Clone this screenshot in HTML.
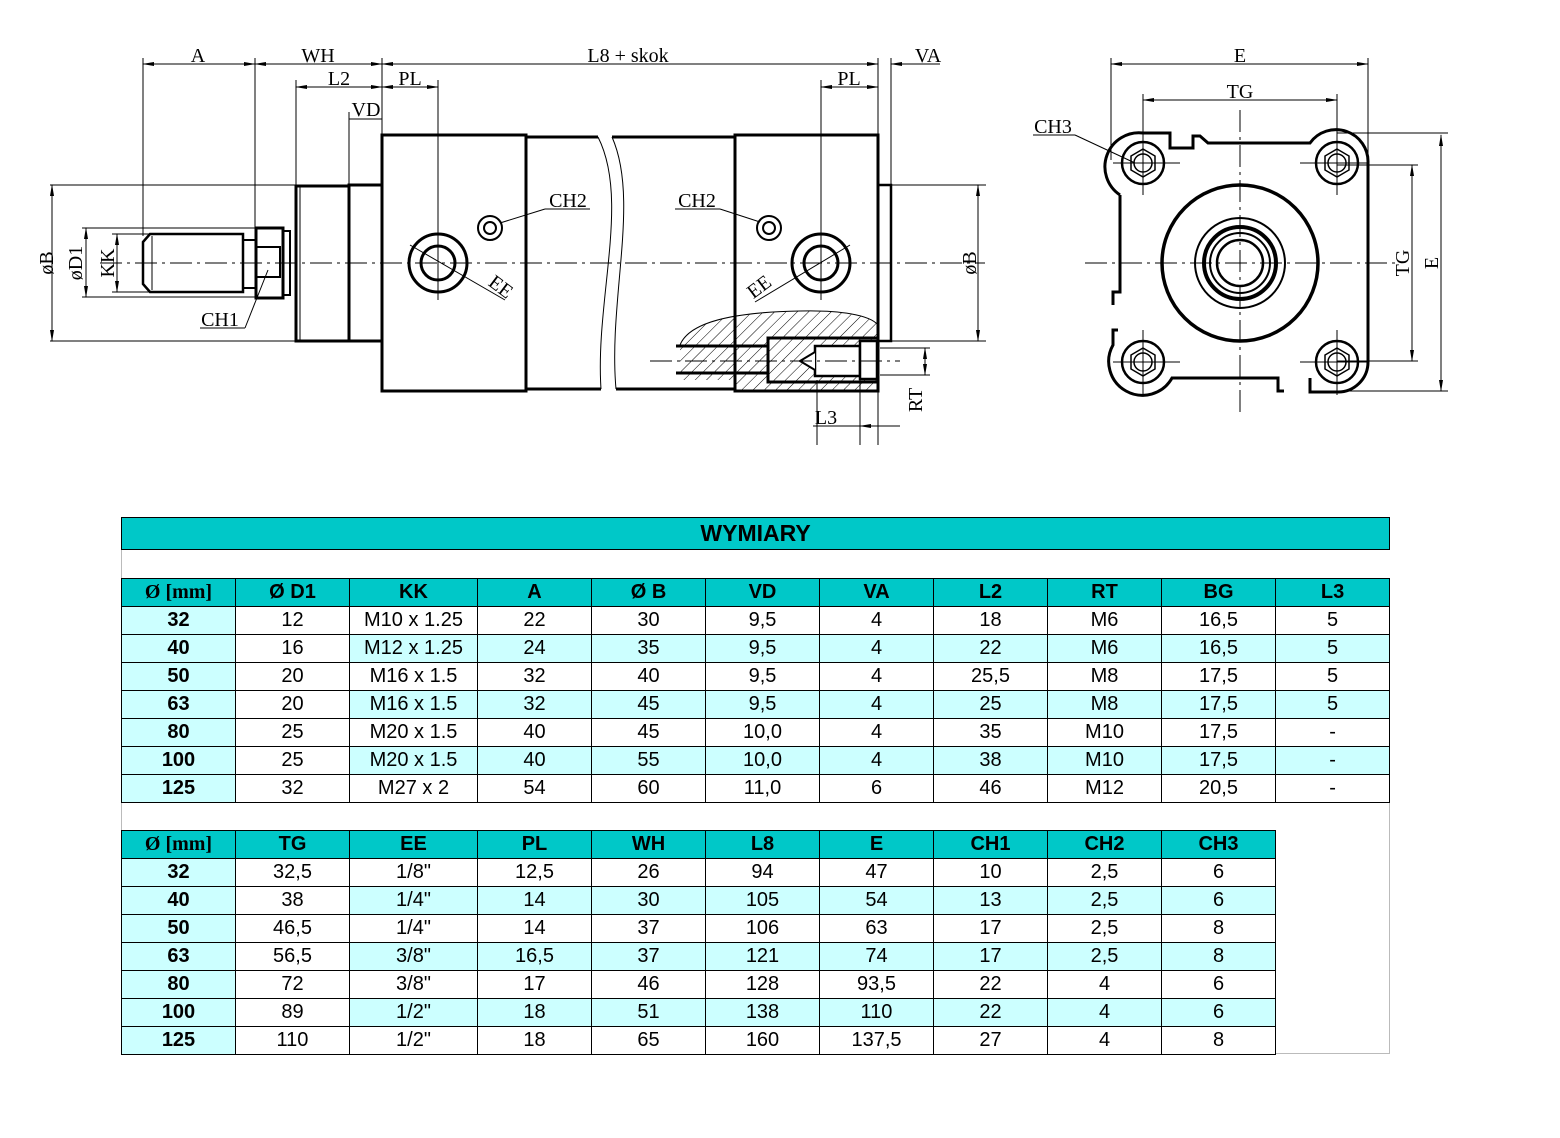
<!DOCTYPE html>
<html><head><meta charset="utf-8"><style>
html,body{margin:0;padding:0;background:#fff;}
body{width:1560px;height:1138px;position:relative;overflow:hidden;}
svg{position:absolute;left:0;top:0;}
.t{position:absolute;border-collapse:collapse;table-layout:fixed;font-family:"Liberation Sans",Arial,sans-serif;font-size:20px;color:#000;}
.t td{border:1px solid #000;height:27px;padding:0;text-align:center;line-height:27px;overflow:hidden;white-space:nowrap;}
.h td{background:#00c8c8;font-weight:bold;}
.c{background:#ccffff;}
.f{background:#ccffff;font-weight:bold;}
.hf{font-family:"Liberation Serif",serif;font-weight:bold;}
</style></head><body>
<svg width="1560" height="500" viewBox="0 0 1560 500" font-family="Liberation Serif, serif" font-size="20">
<defs>
<marker id="ar" markerWidth="12" markerHeight="6" refX="11" refY="3" orient="auto-start-reverse" markerUnits="userSpaceOnUse"><path d="M0,1 L12,3 L0,5z" fill="#000"/></marker>
<pattern id="hat" width="8" height="8" patternUnits="userSpaceOnUse" patternTransform="rotate(45)"><line x1="0" y1="0" x2="0" y2="8" stroke="#000" stroke-width="1"/></pattern>
</defs>
<g stroke="#000" fill="none">
<g stroke-width="1">
<line x1="143" y1="58" x2="143" y2="236"/>
<line x1="255" y1="58" x2="255" y2="230"/>
<line x1="382" y1="58" x2="382" y2="135"/>
<line x1="296" y1="80" x2="296" y2="186"/>
<line x1="349" y1="112" x2="349" y2="186"/>
<line x1="438" y1="80" x2="438" y2="300"/>
<line x1="821" y1="80" x2="821" y2="300"/>
<line x1="878" y1="58" x2="878" y2="135"/>
<line x1="891" y1="58" x2="891" y2="185"/>
<line x1="50" y1="185" x2="296" y2="185"/>
<line x1="50" y1="341" x2="296" y2="341"/>
<line x1="82" y1="228" x2="256" y2="228"/>
<line x1="82" y1="297" x2="256" y2="297"/>
<line x1="112" y1="234" x2="150" y2="234"/>
<line x1="112" y1="292" x2="150" y2="292"/>
<line x1="891" y1="185" x2="986" y2="185"/>
<line x1="891" y1="341" x2="986" y2="341"/>
</g>
<g stroke-width="1" marker-start="url(#ar)" marker-end="url(#ar)">
<line x1="143" y1="64" x2="255" y2="64"/>
<line x1="255" y1="64" x2="382" y2="64"/>
<line x1="382" y1="64" x2="878" y2="64"/>
<line x1="296" y1="87" x2="382" y2="87"/>
<line x1="382" y1="87" x2="438" y2="87"/>
<line x1="821" y1="87" x2="878" y2="87"/>
<line x1="52" y1="185" x2="52" y2="341"/>
<line x1="86" y1="228" x2="86" y2="297"/>
<line x1="117" y1="234" x2="117" y2="292"/>
<line x1="978" y1="185" x2="978" y2="341"/>
<line x1="1111" y1="64" x2="1368" y2="64"/>
<line x1="1143" y1="100" x2="1337" y2="100"/>
<line x1="1412" y1="165" x2="1412" y2="361"/>
<line x1="1441" y1="135" x2="1441" y2="391"/>
</g>
<line x1="349" y1="119" x2="382" y2="119" stroke-width="1"/>
<line x1="891" y1="64" x2="940" y2="64" stroke-width="1" marker-start="url(#ar)"/>
<line x1="100" y1="263" x2="985" y2="263" stroke-width="1" stroke-dasharray="22,5,3,5"/>
<path d="M150,234 H243 V292 H150 L143,284 V242 Z" stroke-width="2.5"/>
<line x1="152" y1="236" x2="152" y2="290" stroke-width="1"/>
<rect x="243" y="240" width="13" height="48" stroke-width="2"/>
<rect x="256" y="228" width="27" height="70" stroke-width="3"/>
<rect x="256" y="247" width="24" height="30" stroke-width="2"/>
<rect x="283" y="231" width="7" height="64" stroke-width="2"/>
<rect x="296" y="186" width="53" height="155" stroke-width="3"/>
<line x1="300" y1="186" x2="300" y2="341" stroke-width="1"/>
<rect x="349" y="185" width="33" height="156" stroke-width="3"/>
<rect x="382" y="135" width="144" height="256" stroke-width="3"/>
<path d="M526,137 H598 M526,389 H601 M612,137 H735 M616,389 H735" stroke-width="3"/>
<path d="M598,137 C630,200 595,300 601,389 M612,137 C640,200 608,300 616,389" stroke-width="1"/>
<rect x="735" y="135" width="143" height="256" stroke-width="3"/>
<rect x="878" y="185" width="13" height="156" stroke-width="2.5"/>
<circle cx="438" cy="263" r="29" stroke-width="3"/>
<circle cx="438" cy="263" r="17" stroke-width="3"/>
<circle cx="821" cy="263" r="29" stroke-width="3"/>
<circle cx="821" cy="263" r="17" stroke-width="3"/>
<line x1="410" y1="245" x2="505" y2="300" stroke-width="1"/>
<line x1="850" y1="245" x2="755" y2="302" stroke-width="1"/>
<circle cx="490" cy="228" r="12" stroke-width="2"/><circle cx="490" cy="228" r="6" stroke-width="2"/>
<circle cx="769" cy="228" r="12" stroke-width="2"/><circle cx="769" cy="228" r="6" stroke-width="2"/>
<line x1="500" y1="223" x2="545" y2="209" stroke-width="1"/><line x1="545" y1="209" x2="590" y2="209" stroke-width="1"/>
<line x1="760" y1="222" x2="720" y2="209" stroke-width="1"/><line x1="675" y1="209" x2="720" y2="209" stroke-width="1"/>
<line x1="268" y1="270" x2="245" y2="328" stroke-width="1"/><line x1="200" y1="328" x2="245" y2="328" stroke-width="1"/>
<path d="M680,345 C690,320 740,312 800,311 C840,310 870,315 878,325 V391 H735 V380 H680 Z" fill="url(#hat)" stroke="none"/>
<path d="M680,345 C690,320 740,312 800,311 C840,310 870,315 878,325" stroke-width="1"/>
<rect x="768" y="338" width="110" height="44" fill="#fff" stroke-width="3"/>
<rect x="768" y="338" width="110" height="44" fill="url(#hat)" stroke="none"/>
<rect x="815" y="346" width="45" height="30" fill="#fff" stroke-width="2.5"/>
<rect x="860" y="341" width="17" height="38" fill="#fff" stroke-width="2.5"/>
<path d="M815,352 L800,361 L815,370" fill="#fff" stroke-width="2"/>
<path d="M676,346 H768 M676,373 H768" stroke-width="3"/>
<line x1="650" y1="361" x2="900" y2="361" stroke-width="1" stroke-dasharray="22,5,3,5"/>
<line x1="880" y1="348" x2="930" y2="348" stroke-width="1"/>
<line x1="880" y1="375" x2="930" y2="375" stroke-width="1"/>
<line x1="925" y1="348" x2="925" y2="375" stroke-width="1" marker-start="url(#ar)" marker-end="url(#ar)"/>
<line x1="817" y1="380" x2="817" y2="445" stroke-width="1"/>
<line x1="860" y1="380" x2="860" y2="445" stroke-width="1"/>
<line x1="878" y1="391" x2="878" y2="445" stroke-width="1"/>
<line x1="813" y1="426" x2="860" y2="426" stroke-width="1"/>
<line x1="860" y1="426" x2="900" y2="426" stroke-width="1" marker-start="url(#ar)"/>
<!-- right view -->
<g stroke-width="1" stroke-dasharray="22,5,3,5">
<line x1="1240" y1="110" x2="1240" y2="412"/>
<line x1="1085" y1="263" x2="1395" y2="263"/>
</g>
<g stroke-width="1">
<line x1="1111" y1="58" x2="1111" y2="160"/>
<line x1="1368" y1="58" x2="1368" y2="160"/>
<line x1="1143" y1="94" x2="1143" y2="190"/>
<line x1="1337" y1="94" x2="1337" y2="190"/>
<line x1="1337" y1="133" x2="1448" y2="133"/>
<line x1="1337" y1="391" x2="1448" y2="391"/>
<line x1="1337" y1="165" x2="1418" y2="165"/>
<line x1="1337" y1="361" x2="1418" y2="361"/>
<line x1="1033" y1="135" x2="1075" y2="135"/>
<line x1="1075" y1="135" x2="1135" y2="163"/>
</g>
<path d="M1120,195 A34,34 0 0 1 1143,133 H1170 V148 H1193 V136 H1200 L1208,143 H1310 A32,32 0 0 1 1368,163 V362 A30,30 0 0 1 1337,392 H1310 V378 M1284,391 H1278 V378 H1172 A32,32 0 0 1 1113,345 V330 H1118 M1113,305 V292 H1120 V195" stroke-width="3"/>
<circle cx="1240" cy="263" r="78" stroke-width="3.5"/>
<circle cx="1240" cy="263" r="45" stroke-width="2"/>
<circle cx="1240" cy="263" r="36" stroke-width="4"/>
<circle cx="1240" cy="263" r="30" stroke-width="2"/>
<circle cx="1240" cy="263" r="23" stroke-width="2.5"/>
<g stroke-width="2.5">
<circle cx="1143" cy="163" r="21"/><circle cx="1337" cy="163" r="21"/><circle cx="1143" cy="362" r="21"/><circle cx="1337" cy="362" r="21"/>
</g>
<g stroke-width="1.5">
<path d="M1143,149 L1155,156 V170 L1143,177 L1131,170 V156Z"/>
<path d="M1337,149 L1349,156 V170 L1337,177 L1325,170 V156Z"/>
<path d="M1143,348 L1155,355 V369 L1143,376 L1131,369 V355Z"/>
<path d="M1337,348 L1349,355 V369 L1337,376 L1325,369 V355Z"/>
<circle cx="1143" cy="163" r="9"/><circle cx="1337" cy="163" r="9"/><circle cx="1143" cy="362" r="9"/><circle cx="1337" cy="362" r="9"/>
</g>
<g stroke-width="1">
<path d="M1113,163 H1180 M1143,130 V195 M1300,163 H1368 M1337,130 V195 M1113,362 H1180 M1143,330 V395 M1300,362 H1368 M1337,330 V395"/>
</g>
</g>
<g fill="#000">
<text x="198" y="62" text-anchor="middle">A</text>
<text x="318" y="62" text-anchor="middle">WH</text>
<text x="628" y="62" text-anchor="middle">L8 + skok</text>
<text x="928" y="62" text-anchor="middle">VA</text>
<text x="339" y="85" text-anchor="middle">L2</text>
<text x="410" y="85" text-anchor="middle">PL</text>
<text x="849" y="85" text-anchor="middle">PL</text>
<text x="366" y="116" text-anchor="middle">VD</text>
<text x="568" y="207" text-anchor="middle">CH2</text>
<text x="697" y="207" text-anchor="middle">CH2</text>
<text x="220" y="326" text-anchor="middle">CH1</text>
<text x="1053" y="133" text-anchor="middle">CH3</text>
<text x="1240" y="62" text-anchor="middle">E</text>
<text x="1240" y="98" text-anchor="middle">TG</text>
<text x="826" y="424" text-anchor="middle">L3</text>
<text transform="translate(497,292) rotate(37)" text-anchor="middle">EE</text>
<text transform="translate(763,292) rotate(-37)" text-anchor="middle">EE</text>
<text transform="translate(53,263) rotate(-90)" text-anchor="middle">øB</text>
<text transform="translate(82,263) rotate(-90)" text-anchor="middle">øD1</text>
<text transform="translate(114,263) rotate(-90)" text-anchor="middle">KK</text>
<text transform="translate(976,263) rotate(-90)" text-anchor="middle">øB</text>
<text transform="translate(922,400) rotate(-90)" text-anchor="middle">RT</text>
<text transform="translate(1409,263) rotate(-90)" text-anchor="middle">TG</text>
<text transform="translate(1438,263) rotate(-90)" text-anchor="middle">E</text>
</g>
</svg>

<table class="t" style="left:121px;top:517px;width:1269px;">
<colgroup><col style="width:114px"><col style="width:114px"><col style="width:128px"><col style="width:114px"><col style="width:114px"><col style="width:114px"><col style="width:114px"><col style="width:114px"><col style="width:114px"><col style="width:114px"><col style="width:114px"></colgroup>
<tr><td colspan="11" style="background:#00c8c8;font-weight:bold;font-size:23px;height:31px;line-height:31px;">WYMIARY</td></tr>
<tr><td colspan="11" style="border-right:none;border-top:none;border-left-color:#bbb;height:28px;"></td></tr>
<tr class="h"><td class="hf">Ø [mm]</td><td>Ø D1</td><td>KK</td><td>A</td><td>Ø B</td><td>VD</td><td>VA</td><td>L2</td><td>RT</td><td>BG</td><td>L3</td></tr>
<tr><td class="f">32</td><td>12</td><td>M10 x 1.25</td><td>22</td><td>30</td><td>9,5</td><td>4</td><td>18</td><td>M6</td><td>16,5</td><td>5</td></tr>
<tr class="c"><td class="f">40</td><td style="background:#fff">16</td><td>M12 x 1.25</td><td>24</td><td>35</td><td>9,5</td><td>4</td><td>22</td><td>M6</td><td>16,5</td><td>5</td></tr>
<tr><td class="f">50</td><td>20</td><td>M16 x 1.5</td><td>32</td><td>40</td><td>9,5</td><td>4</td><td>25,5</td><td>M8</td><td>17,5</td><td>5</td></tr>
<tr class="c"><td class="f">63</td><td style="background:#fff">20</td><td>M16 x 1.5</td><td>32</td><td>45</td><td>9,5</td><td>4</td><td>25</td><td>M8</td><td>17,5</td><td>5</td></tr>
<tr><td class="f">80</td><td>25</td><td>M20 x 1.5</td><td>40</td><td>45</td><td>10,0</td><td>4</td><td>35</td><td>M10</td><td>17,5</td><td>-</td></tr>
<tr class="c"><td class="f">100</td><td style="background:#fff">25</td><td>M20 x 1.5</td><td>40</td><td>55</td><td>10,0</td><td>4</td><td>38</td><td>M10</td><td>17,5</td><td>-</td></tr>
<tr><td class="f">125</td><td>32</td><td>M27 x 2</td><td>54</td><td>60</td><td>11,0</td><td>6</td><td>46</td><td>M12</td><td>20,5</td><td>-</td></tr>
<tr><td colspan="11" style="border-right-color:#bbb;border-left-color:#bbb;border-bottom:none;height:27px;"></td></tr>
</table>

<table class="t" style="left:121px;top:830px;width:1155px;">
<colgroup><col style="width:114px"><col style="width:114px"><col style="width:128px"><col style="width:114px"><col style="width:114px"><col style="width:114px"><col style="width:114px"><col style="width:114px"><col style="width:114px"><col style="width:114px"></colgroup>
<tr class="h"><td class="hf">Ø [mm]</td><td>TG</td><td>EE</td><td>PL</td><td>WH</td><td>L8</td><td>E</td><td>CH1</td><td>CH2</td><td>CH3</td></tr>
<tr><td class="f">32</td><td>32,5</td><td>1/8"</td><td>12,5</td><td>26</td><td>94</td><td>47</td><td>10</td><td>2,5</td><td>6</td></tr>
<tr class="c"><td class="f">40</td><td style="background:#fff">38</td><td>1/4"</td><td>14</td><td>30</td><td>105</td><td>54</td><td>13</td><td>2,5</td><td>6</td></tr>
<tr><td class="f">50</td><td>46,5</td><td>1/4"</td><td>14</td><td>37</td><td>106</td><td>63</td><td>17</td><td>2,5</td><td>8</td></tr>
<tr class="c"><td class="f">63</td><td style="background:#fff">56,5</td><td>3/8"</td><td>16,5</td><td>37</td><td>121</td><td>74</td><td>17</td><td>2,5</td><td>8</td></tr>
<tr><td class="f">80</td><td>72</td><td>3/8"</td><td>17</td><td>46</td><td>128</td><td>93,5</td><td>22</td><td>4</td><td>6</td></tr>
<tr class="c"><td class="f">100</td><td style="background:#fff">89</td><td>1/2"</td><td>18</td><td>51</td><td>138</td><td>110</td><td>22</td><td>4</td><td>6</td></tr>
<tr><td class="f">125</td><td>110</td><td>1/2"</td><td>18</td><td>65</td><td>160</td><td>137,5</td><td>27</td><td>4</td><td>8</td></tr>
</table>
<div style="position:absolute;left:1389px;top:830px;width:1px;height:224px;background:#bbb"></div>
<div style="position:absolute;left:1276px;top:1053px;width:114px;height:1px;background:#bbb"></div>
</body></html>
